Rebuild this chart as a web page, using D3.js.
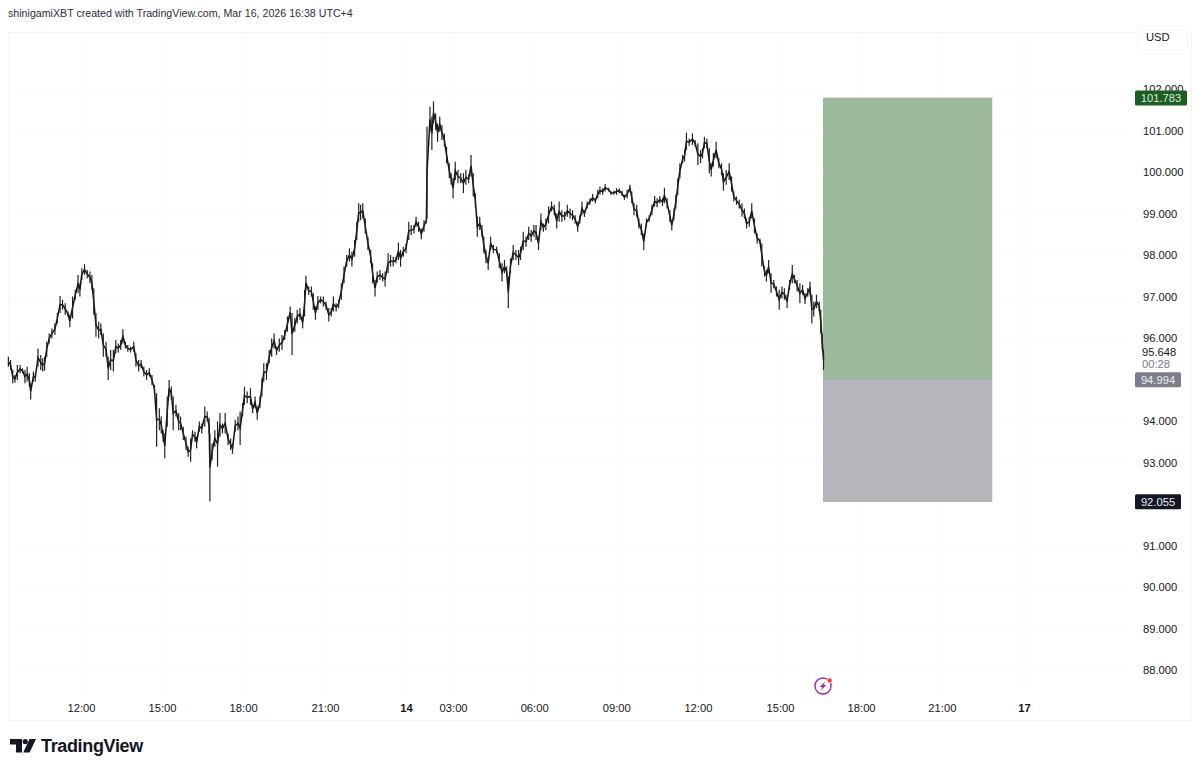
<!DOCTYPE html>
<html>
<head>
<meta charset="utf-8">
<script src="https://cdn.jsdelivr.net/npm/d3@7"></script>
<style>
  html, body { margin: 0; background: #fff; }
  svg text { font-family: "Liberation Sans", Arial, sans-serif; }
</style>
</head>
<body>
<div id="chart"></div>
<script>
// chart hours, counted from 00:00 on the 13th (the time axis skips the empty stretch after "14")
var barHours = [
9.33,9.41,9.49,9.57,9.66,9.76,9.85,9.94,10.02,10.10,10.15,10.25,10.32,10.42,10.52,10.59,10.66,10.74,10.83,10.93,11.04,11.13,11.23,11.32,11.42,11.52,11.59,11.69,11.79,11.89,11.96,
12.03,12.13,12.23,12.33,12.40,12.47,12.55,12.65,12.73,12.82,12.92,13.00,13.09,13.19,13.28,13.37,13.46,13.54,13.63,13.72,13.82,13.94,14.02,14.12,14.21,14.31,14.41,14.51,14.61,14.70,14.78,14.88,14.95,
15.02,15.08,15.17,15.24,15.32,15.39,15.49,15.59,15.66,15.76,15.86,15.94,16.03,16.10,16.19,16.25,16.35,16.44,16.55,16.64,16.71,16.74,16.82,16.92,17.02,17.11,17.20,17.30,17.41,17.50,17.57,17.67,17.77,17.85,17.94,
18.01,18.11,18.23,18.31,18.40,18.48,18.58,18.65,18.72,18.82,18.92,
19.01,19.10,19.19,19.29,19.39,19.49,19.59,19.69,19.76,19.86,19.95,20.05,20.15,20.22,20.27,20.37,20.47,20.54,20.62,20.71,20.81,20.91,21.01,21.11,21.20,21.28,21.38,21.47,21.57,21.67,21.77,21.87,21.96,
22.06,22.14,22.21,22.28,22.36,22.45,22.55,22.65,22.72,22.81,22.89,22.99,23.09,23.18,23.29,23.38,23.48,23.58,23.67,23.75,23.85,23.95,24.05,24.14,24.24,24.32,24.41,24.51,24.61,24.70,24.72,24.83,24.90,24.96,
25.04,25.11,25.19,25.27,25.36,25.44,25.54,25.61,25.68,25.76,25.86,25.96,26.06,26.15,26.25,26.34,26.42,26.50,26.57,26.66,26.74,26.81,26.89,26.97,27.06,27.16,27.28,27.38,27.48,27.57,27.65,27.71,27.79,27.89,27.99,
28.09,28.16,28.26,28.36,28.46,28.55,28.65,28.73,28.82,28.91,29.00,29.09,29.19,
29.30,29.40,29.49,29.58,29.68,29.78,29.88,29.98,30.07,30.17,30.26,30.34,30.42,30.51,30.61,30.71,30.81,30.91,31.00,31.08,31.18,31.27,31.40,31.49,31.59,31.69,31.79,31.89,31.98,
32.08,32.18,32.25,32.33,32.43,32.51,32.60,32.69,32.79,32.89,32.99,33.09,33.18,33.28,33.38,33.45,33.55,33.65,33.72,33.80,33.87,33.94,34.02,34.12,34.19,34.26,34.36,34.48,34.58,34.68,34.78,34.85,34.92,
35.01,35.10,35.17,35.25,35.35,35.45,35.55,35.62,35.72,35.83,35.92,36.00,36.10,36.20,36.30,36.39,36.47,36.57,36.66,36.76,36.86,36.96,37.03,37.13,37.20,37.28,37.37,37.47,37.57,37.67,37.77,37.86,37.96,
38.05,38.15,38.23,38.33,38.43,38.53,38.62,38.72,38.80,38.87,38.94,39.04,39.14,39.20,39.25,39.30];

var highs = [
95.55,95.47,95.23,95.11,95.35,95.35,95.27,95.23,95.31,95.15,94.91,95.19,95.15,95.75,95.59,95.51,95.55,95.91,96.11,96.23,96.35,96.60,97.01,96.92,96.84,96.64,96.56,97.00,97.16,97.52,97.32,
97.68,97.78,97.64,97.60,97.52,97.20,96.60,96.39,96.35,96.11,95.91,95.55,95.71,95.71,95.95,95.87,95.95,96.21,95.91,95.83,95.79,95.91,95.63,95.47,95.47,95.31,95.23,95.27,95.11,94.87,94.67,94.31,94.11,
93.78,93.70,94.59,94.99,94.83,94.59,94.39,94.19,94.11,93.86,93.62,93.38,93.58,93.78,93.74,93.62,93.99,93.94,94.35,94.23,94.07,93.70,93.46,93.78,93.99,94.19,93.94,94.19,93.70,93.58,93.46,94.03,94.11,94.23,94.43,
94.83,94.71,94.79,94.39,94.59,94.35,94.59,95.03,95.39,95.39,95.71,
95.99,96.11,95.79,95.99,96.07,96.19,96.52,96.76,96.60,96.48,96.68,96.72,96.52,97.16,97.50,97.24,97.24,97.08,96.76,97.01,97.00,97.00,96.88,96.72,96.72,97.00,96.84,96.92,97.32,97.72,98.00,98.16,98.08,
98.36,98.80,99.25,99.21,99.25,98.88,98.44,98.12,97.80,97.40,97.60,97.64,97.56,97.60,98.04,98.00,97.96,97.96,98.30,98.12,98.20,98.28,98.80,98.72,98.72,98.92,98.80,98.64,98.84,98.92,101.09,101.57,101.33,101.70,
101.41,101.17,101.33,101.13,100.93,100.61,100.21,99.97,99.85,100.25,100.05,99.97,99.97,100.05,99.93,100.41,99.97,99.49,98.92,98.92,98.72,98.44,98.12,97.96,98.44,98.24,98.20,98.04,97.80,97.88,97.72,97.48,97.92,98.24,98.12,
98.12,98.20,98.56,98.44,98.68,98.60,98.72,98.72,98.44,99.00,98.76,98.88,99.17,
99.29,99.21,99.00,99.29,99.08,99.04,99.21,99.12,99.08,98.96,98.80,98.96,99.29,99.08,99.29,99.37,99.47,99.37,99.57,99.65,99.61,99.71,99.62,99.53,99.55,99.61,99.61,99.55,99.45,
99.57,99.69,99.53,99.25,99.21,98.88,98.76,98.52,98.88,98.96,99.21,99.42,99.37,99.42,99.37,99.62,99.37,99.08,98.84,99.12,99.45,99.85,100.21,100.41,100.53,100.95,100.81,100.93,100.77,100.69,100.53,100.57,100.85,
100.81,100.57,100.21,100.45,100.73,100.33,100.21,99.97,100.05,100.21,99.89,99.53,99.41,99.33,99.25,99.12,98.88,98.92,99.25,98.88,98.52,98.40,98.28,97.72,97.64,97.88,97.56,97.40,97.24,97.16,97.24,97.20,97.04,
97.40,97.76,97.52,97.40,97.32,97.28,97.08,97.20,97.36,97.04,96.88,97.04,96.88,96.68,96.11,95.71];

var lows = [
95.31,95.23,94.91,94.92,94.99,95.15,95.15,94.91,94.95,94.83,94.52,94.95,94.95,95.31,95.23,95.19,95.21,95.55,95.87,95.99,96.07,96.35,96.60,96.68,96.56,96.52,96.26,96.47,96.92,97.08,97.00,
97.40,97.52,97.44,97.32,97.16,96.56,96.03,95.99,96.07,95.55,95.55,94.99,95.23,95.19,95.63,95.65,95.71,95.87,95.75,95.67,95.65,95.67,95.31,95.19,95.27,95.07,94.99,95.07,94.87,94.67,93.38,93.78,93.70,
93.50,93.10,93.86,94.59,94.51,93.78,94.11,93.78,93.78,93.54,93.30,93.14,93.02,93.58,93.50,93.34,93.74,93.70,93.86,93.99,93.70,92.06,93.06,93.38,92.90,93.62,93.70,93.70,93.42,93.30,93.21,93.74,93.78,93.42,94.11,
94.39,94.43,94.39,94.19,94.31,94.03,94.31,94.59,94.95,94.99,95.39,
95.55,95.75,95.59,95.67,95.71,95.95,96.15,96.48,95.59,96.15,96.35,96.44,96.23,96.52,97.16,97.04,97.00,96.68,96.44,96.68,96.84,96.76,96.68,96.40,96.52,96.64,96.64,96.72,96.92,97.32,97.72,97.84,97.72,
97.96,98.36,98.80,98.84,98.88,98.52,98.12,97.80,97.32,97.00,97.34,97.40,97.36,97.24,97.56,97.72,97.72,97.80,97.88,97.72,97.96,98.04,98.36,98.48,98.52,98.68,98.56,98.38,98.56,98.76,98.88,100.97,100.53,101.17,
101.01,100.73,100.97,100.77,100.61,100.21,99.85,99.69,99.37,99.81,99.73,99.73,99.49,99.69,99.73,99.89,99.41,99.13,98.44,98.60,98.44,98.04,97.80,97.64,98.12,98.04,98.04,97.68,97.36,97.56,97.48,96.72,97.56,97.88,97.88,
97.76,97.88,98.12,98.20,98.36,98.32,98.44,98.36,98.12,98.60,98.56,98.60,98.76,
99.05,98.96,98.64,98.80,98.80,98.84,98.92,98.88,98.84,98.76,98.56,98.76,98.96,98.92,99.12,99.21,99.29,99.25,99.37,99.45,99.45,99.53,99.53,99.45,99.45,99.45,99.49,99.42,99.33,
99.37,99.53,99.25,98.96,98.92,98.64,98.48,98.12,98.68,98.80,98.96,99.17,99.15,99.25,99.18,99.25,99.12,98.80,98.59,98.84,99.12,99.45,99.85,100.21,100.25,100.53,100.63,100.65,100.61,100.17,100.21,100.33,100.57,
100.57,99.97,99.89,100.13,100.33,100.09,99.93,99.55,99.69,99.81,99.53,99.29,99.21,99.12,98.92,98.88,98.64,98.68,98.88,98.52,98.28,98.28,97.72,97.48,97.36,97.56,97.09,97.20,97.00,96.68,96.96,96.92,96.72,
97.16,97.32,97.32,97.12,96.84,97.04,96.82,97.00,97.04,96.35,96.52,96.72,96.64,96.11,95.71,95.23];

var priceTicks = [102, 101, 100, 99, 98, 97, 96, 94, 93, 91, 90, 89, 88];
var timeTickHours = [12, 14.98, 17.96, 20.97, 23.95, 25.68, 28.66, 31.68, 34.68, 37.7, 40.68, 43.65, 46.67];
var timeTickLabels = ["12:00", "15:00", "18:00", "21:00", "14", "03:00", "06:00", "09:00", "12:00", "15:00", "18:00", "21:00", "17"];

var targetPrice = 101.783, entryPrice = 94.994, stopPrice = 92.055, lastPrice = 95.648;
var boxStartHour = 39.29, boxEndHour = 45.49;
var countdown = "00:28";
var headerText = "shinigamiXBT created with TradingView.com, Mar 16, 2026 16:38 UTC+4";

var width = 1200, height = 771;
var frame = { left: 8, right: 1191, top: 32, bottom: 720 };
var ink = "#131722";

var svg = d3.select("#chart").append("svg")
    .attr("width", width)
    .attr("height", height)
    .style("display", "block");

var x = d3.scaleLinear().domain([12, 46.67]).range([81, 1024]);
var y = d3.scaleLinear().domain([88, 102]).range([670, 89]);

var bars = barHours.map(function (h, i) {
    return { hour: h, high: highs[i], low: lows[i] };
});

svg.append("text")
    .attr("x", 8)
    .attr("y", 17)
    .attr("font-size", 10.65)
    .attr("fill", "#2a2e39")
    .text(headerText);

// frame and very faint grid
var grid = svg.append("g").attr("stroke", "#fbfbfc").attr("fill", "none");
grid.selectAll(".gx").data(timeTickHours).enter().append("line")
    .attr("x1", function (d) { return x(d); })
    .attr("x2", function (d) { return x(d); })
    .attr("y1", frame.top)
    .attr("y2", frame.bottom - 26);
grid.selectAll(".gy").data(priceTicks).enter().append("line")
    .attr("x1", frame.left)
    .attr("x2", 1131)
    .attr("y1", function (d) { return y(d); })
    .attr("y2", function (d) { return y(d); });
svg.append("rect")
    .attr("x", frame.left + 0.5)
    .attr("y", frame.top + 0.5)
    .attr("width", frame.right - frame.left)
    .attr("height", frame.bottom - frame.top)
    .attr("fill", "none")
    .attr("stroke", "#f6f6f7");

// long position tool
svg.append("rect")
    .attr("x", x(boxStartHour))
    .attr("y", y(targetPrice))
    .attr("width", x(boxEndHour) - x(boxStartHour))
    .attr("height", y(entryPrice) - y(targetPrice))
    .attr("fill", "#9dba9c")
    .attr("stroke", "#8fa98e")
    .attr("stroke-width", 0.6);
svg.append("rect")
    .attr("x", x(boxStartHour))
    .attr("y", y(entryPrice))
    .attr("width", x(boxEndHour) - x(boxStartHour))
    .attr("height", y(stopPrice) - y(entryPrice))
    .attr("fill", "#b5b6bb")
    .attr("stroke", "#a3a4a9")
    .attr("stroke-width", 0.6);

// candles
var line = d3.line()
    .x(function (d) { return x(d.hour); })
    .y(function (d) { return y((d.high + d.low) / 2); });
svg.append("path")
    .datum(bars)
    .attr("d", line)
    .attr("fill", "none")
    .attr("stroke", "#111")
    .attr("stroke-width", 1.5);
svg.append("g").selectAll("line").data(bars).enter().append("line")
    .attr("x1", function (d) { return x(d.hour); })
    .attr("x2", function (d) { return x(d.hour); })
    .attr("y1", function (d) { return y(d.high); })
    .attr("y2", function (d) { return y(d.low); })
    .attr("stroke", "#222")
    .attr("stroke-width", 1.2);

// price axis
var yAxis = d3.axisRight(y)
    .tickValues(priceTicks)
    .tickSize(0)
    .tickFormat(d3.format(".3f"));
var yG = svg.append("g").attr("transform", "translate(1139,0)").call(yAxis);
yG.select(".domain").remove();
yG.selectAll("text").attr("x", 4).attr("font-size", 11.2).attr("fill", ink).style("font-family", null);

// time axis
var xAxis = d3.axisBottom(x)
    .tickValues(timeTickHours)
    .tickSize(0)
    .tickFormat(function (d, i) { return timeTickLabels[i]; });
var xG = svg.append("g").attr("transform", "translate(0,700)").call(xAxis);
xG.select(".domain").remove();
xG.selectAll("text")
    .attr("y", 4)
    .attr("font-size", 11.2)
    .attr("fill", ink)
    .attr("font-weight", function (d, i) { return timeTickLabels[i].length < 3 ? "bold" : "normal"; })
    .style("font-family", null);

function badge(price, w, fill, color) {
    var cy = y(price);
    svg.append("rect")
        .attr("x", 1135).attr("y", cy - 7.5)
        .attr("width", w).attr("height", 15)
        .attr("rx", 1.5)
        .attr("fill", fill);
    svg.append("text")
        .attr("x", 1135 + (w > 50 ? 26 : 23)).attr("y", cy + 4)
        .attr("text-anchor", "middle")
        .attr("font-size", 11.2)
        .attr("fill", color)
        .text(d3.format(".3f")(price));
}
badge(targetPrice, 52, "#1b5e20", "#dfeadf");
badge(entryPrice, 46, "#7d7e8c", "#eeeef2");
badge(stopPrice, 46, ink, "#e8ebf2");

svg.append("text")
    .attr("x", 1142).attr("y", 356)
    .attr("font-size", 11.2).attr("fill", ink)
    .text(d3.format(".3f")(lastPrice));
svg.append("text")
    .attr("x", 1142).attr("y", 368)
    .attr("font-size", 11.2).attr("fill", "#787b86")
    .text(countdown);

// currency button
svg.append("rect")
    .attr("x", 1138.5).attr("y", 26.5)
    .attr("width", 49).attr("height", 24)
    .attr("rx", 5)
    .attr("fill", "#fff")
    .attr("stroke", "#f5f5f7");
svg.append("text")
    .attr("x", 1146).attr("y", 41)
    .attr("font-size", 11.2).attr("fill", ink)
    .text("USD");

// news icon
var icon = svg.append("g").attr("transform", "translate(823,686)");
icon.append("circle").attr("r", 8).attr("fill", "#fff").attr("stroke", "#9c27b0").attr("stroke-width", 1.4);
icon.append("path").attr("d", "M2.2,-4.6 L-3.4,1 L-0.6,1 L-2.2,4.6 L3.4,-1 L0.6,-1 Z").attr("fill", "#9c27b0");
icon.append("circle").attr("cx", 6.6).attr("cy", -5.6).attr("r", 2.6).attr("fill", "#f23645").attr("stroke", "#fff").attr("stroke-width", 0.8);

// TradingView logo
var logo = svg.append("g").attr("fill", ink);
logo.append("path").attr("d", "M10,739 H22 V752.5 H16 V744.5 H10 Z");
logo.append("circle").attr("cx", 25.2).attr("cy", 741.6).attr("r", 2.6);
logo.append("path").attr("d", "M29.5,739 H36 L29.6,752.5 H23.2 Z");
logo.append("text")
    .attr("x", 41).attr("y", 752)
    .attr("font-size", 18)
    .attr("font-weight", "bold")
    .attr("letter-spacing", -0.35)
    .text("TradingView");
</script>
</body>
</html>
